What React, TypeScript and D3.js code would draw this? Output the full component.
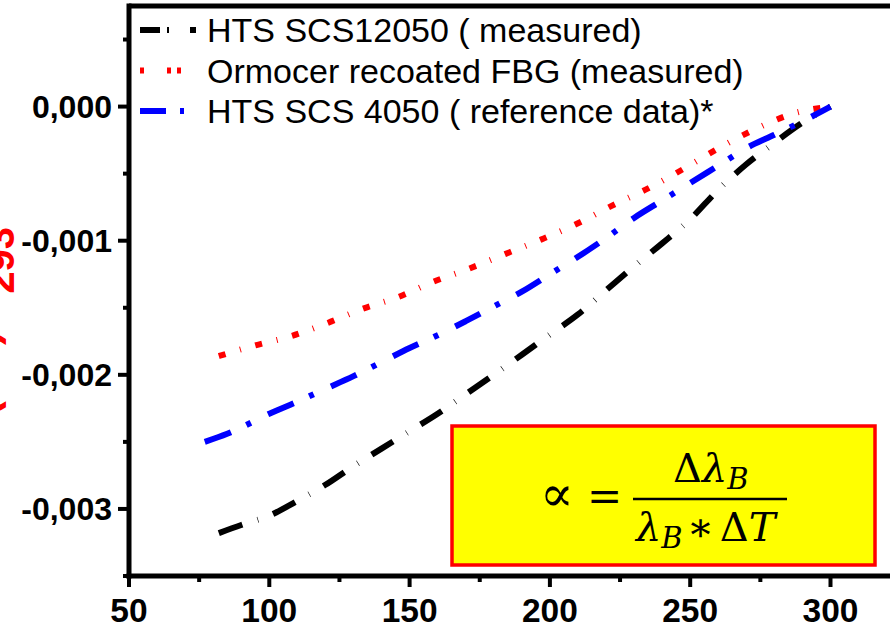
import React from "react";
import * as d3 from "d3";

const W = 890;
const H = 625;

// HTS SCS12050 (measured)
const blackX = [82, 90, 100, 110, 120, 130, 140, 150, 160, 170, 180, 190, 200, 210, 220, 230, 240, 250, 260, 270, 280, 290, 300];
const blackY = [-3.18, -3.12, -3.05, -2.94, -2.82, -2.68, -2.55, -2.42, -2.29, -2.145, -2.0, -1.85, -1.7, -1.55, -1.37, -1.19, -1.02, -0.84, -0.62, -0.43, -0.27, -0.12, 0];

// Ormocer recoated FBG (measured)
const redX = [82, 95, 108, 120, 133, 146, 158, 171, 184, 197, 210, 222, 235, 248, 261, 274, 287, 300];
const redY = [-1.86, -1.78, -1.71, -1.62, -1.51, -1.42, -1.31, -1.21, -1.1, -0.99, -0.87, -0.74, -0.61, -0.46, -0.3, -0.16, -0.05, 0];

// HTS SCS 4050 (reference data)
const blueX = [77, 85, 100, 110, 120, 130, 140, 150, 160, 170, 180, 190, 200, 210, 220, 230, 240, 250, 260, 270, 280, 290, 300];
const blueY = [-2.5, -2.44, -2.29, -2.2, -2.105, -2.01, -1.905, -1.8, -1.705, -1.6, -1.49, -1.38, -1.25, -1.12, -0.98, -0.83, -0.7, -0.57, -0.44, -0.31, -0.21, -0.11, 0];

const xTicks = [50, 100, 150, 200, 250, 300, 350];
const xMinor = [75, 125, 175, 225, 275, 325];
const yTicks = [0, -0.001, -0.002, -0.003];
const yTickLabels = ["0,000", "-0,001", "-0,002", "-0,003"];
const yMinor = [0.0005, -0.0005, -0.0015, -0.0025, -0.0035];

const legendLabels = [
  "HTS SCS12050 ( measured)",
  "Ormocer recoated FBG (measured)",
  "HTS SCS 4050 ( reference data)*",
];

export default function App() {
  const x = d3.scaleLinear().domain([50, 300]).range([129, 830.5]);
  const y = d3.scaleLinear().domain([-0.0035, 0.00075]).range([576, 6]);

  const line = d3
    .line<[number, number]>()
    .x((d) => x(d[0]))
    .y((d) => y(d[1] / 1000))
    .curve(d3.curveMonotoneX);

  const series = [
    { xs: blackX, ys: blackY, color: "#000000", dash: "25,16,0.6,16", w: 6 },
    { xs: redX, ys: redY, color: "#ff0000", dash: "7,15,1,15", w: 6 },
    { xs: blueX, ys: blueY, color: "#0000ff", dash: "28,17,5,19", w: 6 },
  ];

  const legendDash = ["20,7,2,21,6,10", "4,23,4,6,4,20", "26,14,4,40"];

  const font = "'Liberation Sans', Arial, sans-serif";
  const mathFont = "'DejaVu Serif', 'Liberation Serif', serif";

  return (
    <svg width={W} height={H} style={{ display: "block", position: "absolute", left: 0, top: 0, background: "#fff" }}>
      <rect x={0} y={0} width={W} height={H} fill="#ffffff" />

      {/* y-axis title (cropped at the left edge, as in the reference) */}
      <text
        transform={`translate(-3, 227) rotate(-90)`}
        textAnchor="end"
        fill="#ff0000"
        fontFamily={font}
        fontWeight="bold"
        fontSize={44}
      >
        (Δλ)/λ<tspan dy={17} fontSize={40}>293</tspan>
      </text>

      {/* curves */}
      {series.map((s, i) => (
        <path
          key={i}
          d={line(s.xs.map((v, j) => [v, s.ys[j]] as [number, number])) || ""}
          fill="none"
          stroke={s.color}
          strokeWidth={s.w}
          strokeDasharray={s.dash}
          strokeLinecap="butt"
        />
      ))}

      {/* frame */}
      <line x1={129} y1={6} x2={W} y2={6} stroke="#000" strokeWidth={5} />
      <line x1={129} y1={3.5} x2={129} y2={578.5} stroke="#000" strokeWidth={5} />
      <line x1={126.5} y1={576} x2={W} y2={576} stroke="#000" strokeWidth={5} />

      {/* y ticks */}
      {yTicks.map((t, i) => (
        <g key={"yt" + i}>
          <line x1={118} x2={129} y1={y(t)} y2={y(t)} stroke="#000" strokeWidth={4} />
          <text
            x={112}
            y={y(t) + 11.5}
            textAnchor="end"
            fontFamily={font}
            fontWeight="bold"
            fontSize={32}
            fill="#000"
          >
            {yTickLabels[i]}
          </text>
        </g>
      ))}
      {yMinor.map((t, i) => (
        <line key={"ym" + i} x1={123} x2={129} y1={y(t)} y2={y(t)} stroke="#000" strokeWidth={4} />
      ))}

      {/* x ticks */}
      {xTicks.map((t, i) => (
        <g key={"xt" + i}>
          <line x1={x(t)} x2={x(t)} y1={576} y2={587} stroke="#000" strokeWidth={4} />
          <text
            x={x(t)}
            y={622}
            textAnchor="middle"
            fontFamily={font}
            fontWeight="bold"
            fontSize={33.5}
            fill="#000"
          >
            {t}
          </text>
        </g>
      ))}
      {xMinor.map((t, i) => (
        <line key={"xm" + i} x1={x(t)} x2={x(t)} y1={576} y2={582} stroke="#000" strokeWidth={4} />
      ))}

      {/* legend */}
      {legendLabels.map((lab, i) => {
        const by = 42 + i * 40.5;
        return (
          <g key={"lg" + i}>
            <line
              x1={140}
              x2={200}
              y1={by - 12}
              y2={by - 12}
              stroke={series[i].color}
              strokeWidth={6}
              strokeDasharray={legendDash[i]}
            />
            <text x={207} y={by} fontFamily={font} fontSize={34} fill="#000">
              {lab}
            </text>
          </g>
        );
      })}

      {/* formula box */}
      <rect x={452} y={426} width={423} height={139} fill="#ffff00" stroke="#ff0000" strokeWidth={3.5} />
      <g fontFamily={mathFont} fill="#000">
        <text x={540} y={511} fontSize={50}>∝</text>
        <text x={587} y={511} fontSize={42}>=</text>
        <text x={673} y={482} fontSize={40}>
          Δ<tspan fontStyle="italic">λ</tspan>
          <tspan fontStyle="italic" fontSize={29} dy={7}>B</tspan>
        </text>
        <line x1={633} x2={787} y1={499} y2={499} stroke="#000" strokeWidth={2.5} />
        <text x={636} y={541} fontSize={40}>
          <tspan fontStyle="italic">λ</tspan>
          <tspan fontStyle="italic" fontSize={29} dy={7}>B</tspan>
          <tspan dy={-7} dx={4}>∗</tspan>
          <tspan dx={6}>Δ</tspan>
          <tspan fontStyle="italic">T</tspan>
        </text>
      </g>
    </svg>
  );
}
